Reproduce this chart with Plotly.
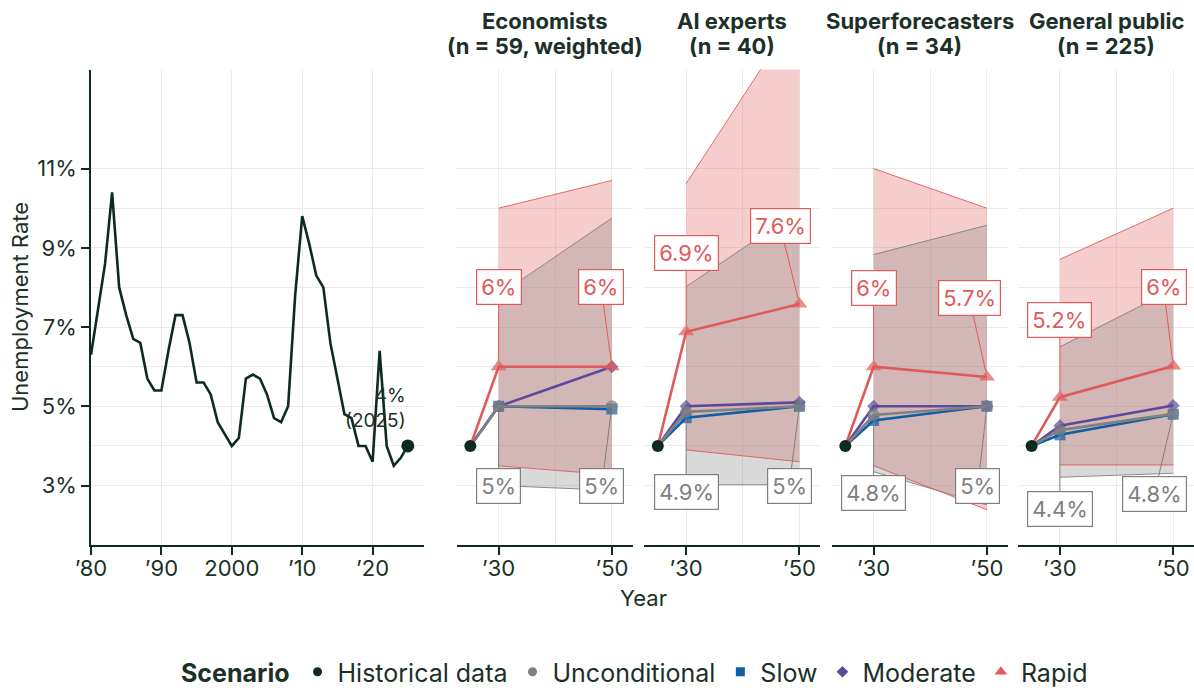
import plotly.graph_objects as go

# ---------------- data ----------------
hist_years = list(range(1980, 2026))
hist_rate = [6.3, 7.5, 8.6, 10.4, 8.0, 7.3, 6.7, 6.6, 5.7, 5.4,
             5.4, 6.4, 7.3, 7.3, 6.6, 5.6, 5.6, 5.3, 4.6, 4.3,
             4.0, 4.2, 5.7, 5.8, 5.7, 5.3, 4.7, 4.6, 5.0, 7.8,
             9.8, 9.1, 8.3, 8.0, 6.6, 5.7, 4.8, 4.7, 4.0, 4.0,
             3.6, 6.4, 4.0, 3.5, 3.7, 4.0]

groups = ["Economists", "AI experts", "Superforecasters", "General public"]
group_n = ["(n = 59, weighted)", "(n = 40)", "(n = 34)", "(n = 225)"]

forecast_years = [2030, 2050]

# median forecasts per group: [2030, 2050]
unconditional = [[5.0, 5.0], [4.86, 5.0], [4.78, 5.0], [4.4, 4.81]]
slow = [[5.0, 4.93], [4.71, 5.0], [4.64, 5.0], [4.28, 4.8]]
moderate = [[5.0, 6.0], [5.0, 5.1], [5.0, 5.0], [4.51, 5.02]]
rapid = [[6.0, 6.0], [6.88, 7.58], [6.0, 5.74], [5.23, 6.02]]

# interval bands: [2030, 2050]
rapid_hi = [[10.0, 10.7], [10.62, 15.0], [11.0, 10.0], [8.71, 10.0]]
rapid_lo = [[3.5, 3.27], [3.9, 3.6], [3.5, 2.39], [3.52, 3.52]]
uncond_hi = [[7.8, 9.75], [8.02, 9.95], [8.83, 9.57], [6.5, 7.95]]
uncond_lo = [[3.0, 2.88], [3.02, 3.02], [3.35, 2.51], [3.21, 3.31]]

# label placement (repelled positions) [2030 label, 2050 label] as (x, y)
rapid_label_pos = [[(2030, 8.0), (2048.1, 8.0)], [(2030, 8.88), (2046.6, 9.55)],
                   [(2030, 7.98), (2046.9, 7.74)], [(2030, 7.19), (2048.3, 8.0)]]
uncond_label_pos = [[(2030, 2.99), (2048.2, 2.99)], [(2030, 2.85), (2048.2, 2.99)],
                    [(2030, 2.80), (2048.4, 2.99)], [(2030, 2.40), (2046.7, 2.79)]]

hist_tickvals = [1980, 1990, 2000, 2010, 2020]
hist_ticktext = ["’80", "’90", "2000", "’10", "’20"]
facet_tickvals = [2030, 2050]
facet_ticktext = ["’30", "’50"]
y_tickvals = [3, 5, 7, 9, 11]
y_ticktext = ["3%", "5%", "7%", "9%", "11%"]

# ---------------- style ----------------
W, H = 1194, 688
FONT = "Inter"
TXT = "#1c3028"
DARK = "#0f2a21"
GRID = "#ebebeb"
C_UNC = "#808080"
C_SLOW = "#0d5fa6"
C_MOD = "#5b4a9c"
C_RAP = "#e05a5a"
FILL_RAP = "rgba(224,90,90,0.30)"
FILL_UNC = "rgba(128,128,128,0.30)"

def px_x(p):
    return p / W

def px_y(p):
    return (H - p) / H

y_dom = [px_y(545), px_y(69.5)]
y_range = [1.5, 13.5]
hist_dom = [px_x(91), px_x(424)]
facet_left = [456.7, 644.2, 831.7, 1018.0]
facet_w = 176.0
facet_range = [2022.6, 2053.67]

fig = go.Figure()

# historical panel
fig.add_trace(go.Scatter(x=hist_years, y=hist_rate, mode="lines",
                         line=dict(color=DARK, width=2.6), xaxis="x", yaxis="y",
                         showlegend=False, hoverinfo="skip"))
fig.add_trace(go.Scatter(x=[hist_years[-1]], y=[hist_rate[-1]], mode="markers",
                         marker=dict(color=DARK, size=13), xaxis="x", yaxis="y",
                         showlegend=False, hoverinfo="skip"))

base_year = hist_years[-1]
base_val = hist_rate[-1]

annotations = []

def fmt(v):
    return f"{round(v, 1):g}%"

for i in range(4):
    xa = f"x{i+2}"
    ya = f"y{i+2}"
    # bands
    for hi, lo, fc in [(rapid_hi[i], rapid_lo[i], FILL_RAP), (uncond_hi[i], uncond_lo[i], FILL_UNC)]:
        fig.add_trace(go.Scatter(x=forecast_years + forecast_years[::-1],
                                 y=hi + lo[::-1], fill="toself", fillcolor=fc,
                                 mode="lines", line=dict(width=0), xaxis=xa, yaxis=ya,
                                 showlegend=False, hoverinfo="skip"))
    for hi, lo, lc in [(uncond_hi[i], uncond_lo[i], C_UNC), (rapid_hi[i], rapid_lo[i], C_RAP)]:
        for edge in (hi, lo):
            fig.add_trace(go.Scatter(x=forecast_years, y=edge, mode="lines",
                                     line=dict(color=lc, width=0.9), xaxis=xa, yaxis=ya,
                                     showlegend=False, hoverinfo="skip"))
    # scenario lines
    for vals, col, sym, sz in [(slow[i], C_SLOW, "square", 11),
                               (moderate[i], C_MOD, "diamond", 10),
                               (unconditional[i], C_UNC, "circle", 12),
                               (rapid[i], C_RAP, "triangle-up", 14)]:
        fig.add_trace(go.Scatter(x=[base_year] + forecast_years, y=[base_val] + vals,
                                 mode="lines+markers",
                                 line=dict(color=col, width=2.6),
                                 marker=dict(color=col, symbol=sym, size=[0, sz, sz],
                                             line=dict(width=0)),
                                 xaxis=xa, yaxis=ya, showlegend=False, hoverinfo="skip"))
    fig.add_trace(go.Scatter(x=[base_year], y=[base_val], mode="markers",
                             marker=dict(color=DARK, size=12), xaxis=xa, yaxis=ya,
                             showlegend=False, hoverinfo="skip"))
    # value labels
    for vals, pos, col in [(rapid[i], rapid_label_pos[i], C_RAP),
                           (unconditional[i], uncond_label_pos[i], C_UNC)]:
        for j in range(2):
            annotations.append(dict(
                x=forecast_years[j], y=vals[j], xref=xa, yref=ya,
                ax=pos[j][0], ay=pos[j][1], axref=xa, ayref=ya,
                text=fmt(vals[j]), showarrow=True, arrowhead=0, arrowwidth=1,
                arrowcolor=col, standoff=6,
                font=dict(family=FONT, size=22, color=col),
                bgcolor="white", bordercolor=col, borderwidth=1.2, borderpad=4))
    # facet titles
    cx = px_x(facet_left[i] + facet_w / 2)
    annotations.append(dict(x=cx, y=px_y(21), xref="paper", yref="paper",
                            text=f"<b>{groups[i]}</b>", showarrow=False,
                            font=dict(family=FONT, size=22, color=TXT),
                            xanchor="center", yanchor="middle"))
    annotations.append(dict(x=cx, y=px_y(46), xref="paper", yref="paper",
                            text=f"<b>{group_n[i]}</b>", showarrow=False,
                            font=dict(family=FONT, size=22, color=TXT),
                            xanchor="center", yanchor="middle"))

# historical end label
annotations.append(dict(x=base_year, y=4.3, xref="x", yref="y",
                        text=f"{base_val:g}%<br>({base_year})", showarrow=False,
                        xanchor="right", yanchor="bottom", align="right",
                        font=dict(family=FONT, size=19, color=TXT)))
# axis titles
annotations.append(dict(x=px_x(20), y=px_y(307), xref="paper", yref="paper",
                        text="Unemployment Rate", textangle=-90, showarrow=False,
                        font=dict(family=FONT, size=22, color=TXT),
                        xanchor="center", yanchor="middle"))
annotations.append(dict(x=px_x(643), y=px_y(598), xref="paper", yref="paper",
                        text="Year", showarrow=False,
                        font=dict(family=FONT, size=22, color=TXT),
                        xanchor="center", yanchor="middle"))

# legend entries
for name, col, sym, sz in [("Historical data", DARK, "circle", 9),
                           ("Unconditional", C_UNC, "circle", 9),
                           ("Slow", C_SLOW, "square", 9),
                           ("Moderate", C_MOD, "diamond", 9),
                           ("Rapid", C_RAP, "triangle-up", 11)]:
    fig.add_trace(go.Scatter(x=[None], y=[None], mode="markers", name=name,
                             marker=dict(color=col, symbol=sym, size=sz),
                             xaxis="x", yaxis="y", showlegend=True))

axis_common = dict(showgrid=True, gridcolor=GRID, gridwidth=1, zeroline=False,
                   tickfont=dict(family=FONT, size=22, color=TXT),
                   ticks="outside", ticklen=8, tickwidth=1.5, tickcolor=DARK)

layout = dict(
    width=W, height=H, autosize=False,
    margin=dict(l=0, r=0, t=0, b=0, autoexpand=False),
    paper_bgcolor="white", plot_bgcolor="white",
    font=dict(family=FONT, color=TXT),
    annotations=annotations,
    showlegend=True,
    legend=dict(orientation="h", x=px_x(179), y=px_y(672), xanchor="left", yanchor="middle",
                title=dict(text="<b>Scenario</b>", font=dict(family=FONT, size=25, color=TXT)),
                font=dict(family=FONT, size=25, color=TXT), bgcolor="rgba(0,0,0,0)",
                itemwidth=30, itemsizing="trace"),
    xaxis=dict(domain=hist_dom, range=[1980, 2027.3], anchor="y",
               tickvals=hist_tickvals, ticktext=hist_ticktext, ticklabelstandoff=-5,
               showline=True, linecolor=DARK, linewidth=1.5, **axis_common),
    yaxis=dict(domain=y_dom, range=y_range, anchor="x",
               tickvals=y_tickvals, ticktext=y_ticktext,
               showline=True, linecolor=DARK, linewidth=1.5,
               minor=dict(tickvals=[4, 6, 8, 10], showgrid=True, gridcolor=GRID, ticks=""),
               **axis_common),
)
for i in range(4):
    k = i + 2
    layout[f"xaxis{k}"] = dict(domain=[px_x(facet_left[i]), px_x(facet_left[i] + facet_w)],
                               range=facet_range, anchor=f"y{k}",
                               tickvals=facet_tickvals, ticktext=facet_ticktext,
                               ticklabelstandoff=-5,
                               minor=dict(tickvals=[2040], showgrid=True, gridcolor=GRID, ticks=""),
                               showline=True, linecolor=DARK, linewidth=1.5, **axis_common)
    layout[f"yaxis{k}"] = dict(domain=y_dom, range=y_range, anchor=f"x{k}",
                               tickvals=y_tickvals, showticklabels=False,
                               minor=dict(tickvals=[4, 6, 8, 10], showgrid=True, gridcolor=GRID, ticks=""),
                               showline=False,
                               showgrid=True, gridcolor=GRID, gridwidth=1, zeroline=False, ticks="")

fig.update_layout(**layout)

fig.write_html("out.html", config={"displayModeBar": False},
               post_script="document.body.style.margin='0';")
